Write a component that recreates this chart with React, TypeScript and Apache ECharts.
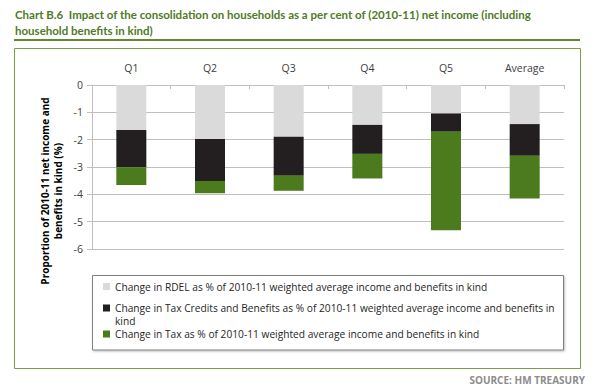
import React, { useEffect, useRef } from 'react';
import * as echarts from 'echarts';

const categories = ['Q1', 'Q2', 'Q3', 'Q4', 'Q5', 'Average'];
const rdel = [-1.65, -1.98, -1.89, -1.46, -1.04, -1.43];
const taxCredits = [-1.36, -1.53, -1.43, -1.06, -0.67, -1.16];
const tax = [-0.65, -0.45, -0.55, -0.9, -3.6, -1.56];
const yMin = -6;
const yMax = 0;
const yStep = 1;

const seriesNames = [
  'Change in RDEL as % of 2010-11 weighted average income and benefits in kind',
  'Change in Tax Credits and Benefits as % of 2010-11 weighted average income and benefits in kind',
  'Change in Tax as % of 2010-11 weighted average income and benefits in kind',
];
const seriesColors = ['#dadada', '#231f20', '#4b7b1c'];
const titleText =
  'Chart B.6  Impact of the consolidation on households as a per cent of (2010-11) net income (including\nhousehold benefits in kind)';
const yAxisTitleLines = ['Proportion of 2010-11 net income and', 'benefits in kind (%)'];
const sourceText = 'SOURCE: HM TREASURY';

const FONT = '"Open Sans", "Noto Sans", sans-serif';
const Y_TITLE_FONT = 'bold 10px "Open Sans", sans-serif';

function measure(text: string, font: string): number {
  const ctx = document.createElement('canvas').getContext('2d');
  if (!ctx) return text.length * 5.5;
  ctx.font = font;
  return ctx.measureText(text).width;
}

export default function App() {
  const ref = useRef<HTMLDivElement>(null);
  useEffect(() => {
    if (!ref.current) return;
    const chart = echarts.init(ref.current, null, { renderer: 'svg' });
    const values = [rdel, taxCredits, tax];
    const legendTops = [280, 301.5, 327.5];
    const legendText = {
      fontFamily: FONT,
      fontSize: 10.2,
      color: '#262626',
      lineHeight: 13,
    };
    const yTitleCenter = 191;
    chart.setOption({
      animation: false,
      backgroundColor: '#ffffff',
      textStyle: { fontFamily: FONT },
      grid: { left: 92, right: 31, top: 85, bottom: 140, containLabel: false },
      xAxis: {
        type: 'category',
        position: 'top',
        data: categories,
        axisLine: { show: true, lineStyle: { color: '#bfbfbf', width: 1 } },
        axisTick: { show: true, inside: true, length: 4, lineStyle: { color: '#bfbfbf' } },
        axisLabel: { color: '#404040', fontSize: 10.5, margin: 12, fontFamily: FONT },
        splitLine: { show: false },
      },
      yAxis: {
        type: 'value',
        min: yMin,
        max: yMax,
        interval: yStep,
        axisLine: { show: true, lineStyle: { color: '#bfbfbf', width: 1 } },
        axisTick: { show: true, inside: false, length: 5, lineStyle: { color: '#bfbfbf' } },
        axisLabel: { color: '#404040', fontSize: 10.5, margin: 9, fontFamily: FONT },
        splitLine: { show: true, lineStyle: { color: '#bfbfbf', width: 1 } },
      },
      legend: seriesNames.map((name, i) => ({
        left: 103,
        top: legendTops[i],
        orient: 'vertical',
        padding: 0,
        itemWidth: 7,
        itemHeight: i === 1 ? 20 : 7,
        icon: i === 1 ? 'path://M0,0H7V7H0Z M0,20h0.01v0.01h-0.01Z' : 'rect',
        selectedMode: false,
        data: [name],
        formatter: (n: string) => (i === 1 ? n.replace(/ kind$/, '\nkind') : n),
        textStyle: legendText,
      })),
      series: seriesNames.map((name, i) => ({
        name,
        type: 'bar',
        stack: 'total',
        barWidth: 30,
        data: values[i],
        itemStyle: { color: seriesColors[i] },
      })),
      graphic: [
        {
          type: 'text',
          left: 15,
          top: 6,
          style: {
            text: titleText,
            font: 'bold 11.5px Lato, "Open Sans", sans-serif',
            fill: '#4f7a28',
            lineHeight: 16,
          },
        },
        {
          type: 'rect',
          shape: { x: 14, y: 39, width: 566, height: 2 },
          style: { fill: '#5f8a2e' },
        },
        {
          type: 'rect',
          shape: { x: 14.5, y: 48.5, width: 566, height: 320 },
          style: { fill: 'none', stroke: '#7a9d4a', lineWidth: 1 },
          silent: true,
        },
        {
          type: 'rect',
          shape: { x: 92.5, y: 275.5, width: 471, height: 74.5 },
          style: {
            fill: '#ffffff',
            stroke: '#7f7f7f',
            lineWidth: 1,
            shadowBlur: 2,
            shadowOffsetX: 1,
            shadowOffsetY: 1,
            shadowColor: 'rgba(0,0,0,0.25)',
          },
          silent: true,
        },
        ...yAxisTitleLines.map((t, i) => ({
          type: 'text',
          x: 45 + i * 13,
          y: yTitleCenter + measure(t, Y_TITLE_FONT) / 2,
          rotation: Math.PI / 2,
          style: {
            text: t,
            font: Y_TITLE_FONT,
            fill: '#000000',
            align: 'left',
            verticalAlign: 'middle',
          },
        })),
        {
          type: 'text',
          x: 585,
          y: 380,
          style: {
            text: sourceText,
            font: 'bold 10px "Open Sans", sans-serif',
            fill: '#8c8c8c',
            align: 'right',
            verticalAlign: 'middle',
          },
        },
      ],
    });
    return () => chart.dispose();
  }, []);
  return (
    <div
      ref={ref}
      style={{ position: 'fixed', left: 0, top: 0, width: 595, height: 389, background: '#fff' }}
    />
  );
}
